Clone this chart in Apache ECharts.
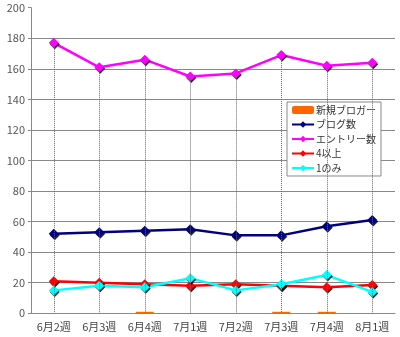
<!DOCTYPE html>
<html><head><meta charset="utf-8">
<script src="https://cdn.jsdelivr.net/npm/echarts@6/dist/echarts.min.js"></script>
<style>html,body{margin:0;padding:0;background:#fff}#c{width:400px;height:337px}</style>
</head><body><div id="c"></div>
<script>
const categories = ['6月2週','6月3週','6月4週','7月1週','7月2週','7月3週','7月4週','8月1週'];
const newBloggers = [0, 0, 1, 0, 0, 1, 1, 0];
const blogCount = [52, 53, 54, 55, 51, 51, 57, 61];
const entryCount = [177, 161, 166, 155, 157, 169, 162, 164];
const fourPlus = [21, 20, 19, 18, 19, 18, 17, 18.5];
const onlyOne = [15, 18, 17, 23, 15, 19, 25, 14];
const yTicks = {min: 0, max: 200, interval: 20};

const font = 'Noto Sans CJK JP';
function lineSeries(name, data, color, extra) {
  return Object.assign({
    name, type: 'line', data,
    symbol: 'diamond', symbolSize: 10,
    lineStyle: {color, width: 2.5},
    itemStyle: {color, shadowColor: 'rgba(0,0,0,0.85)', shadowOffsetX: 1, shadowOffsetY: 1.5, shadowBlur: 0},
    emphasis: {disabled: true}, animation: false
  }, extra || {});
}
const chart = echarts.init(document.getElementById('c'));
chart.setOption({
  animation: false,
  textStyle: {fontFamily: font},
  grid: {left: 31, right: 5, top: 7.7, bottom: 23.7},
  legend: {
    orient: 'vertical', left: 287, top: 102,
    padding: [3, 5, 3, 4], itemGap: 4.5, itemWidth: 22, itemHeight: 8,
    borderColor: '#888', borderWidth: 1, backgroundColor: '#fff',
    textStyle: {fontFamily: font, fontSize: 10, color: '#333', padding: [0,0,0,-3]},
    data: ['新規ブロガー','ブログ数','エントリー数','4以上','1のみ']
  },
  xAxis: {
    type: 'category', data: categories, boundaryGap: true,
    axisLine: {lineStyle: {color: '#888', width: 1}},
    axisTick: {inside: true, length: 4, lineStyle: {color: '#888'}},
    axisLabel: {color: '#444', fontSize: 11, fontFamily: font, margin: 8}
  },
  yAxis: {
    type: 'value', min: yTicks.min, max: yTicks.max, interval: yTicks.interval,
    axisLine: {show: true, lineStyle: {color: '#888'}},
    axisTick: {show: true, length: 3, lineStyle: {color: '#888'}},
    axisLabel: {color: '#555', fontSize: 11, fontFamily: font, margin: 6},
    splitLine: {show: true, showMaxLine: false, lineStyle: {color: '#888', width: 1}}
  },
  series: [
    {name: '新規ブロガー', type: 'bar', data: newBloggers, barWidth: 18,
     itemStyle: {color: '#FF6600'}, animation: false},
    lineSeries('ブログ数', blogCount, '#000080'),
    lineSeries('エントリー数', entryCount, '#FF00FF', {
      markLine: {
        silent: true, symbol: 'none', animation: false,
        lineStyle: {type: 'dotted', color: '#666', width: 1},
        label: {show: false},
        data: entryCount.map((v, i) => [{coord: [i, v]}, {coord: [i, 0]}])
      }
    }),
    lineSeries('4以上', fourPlus, '#FF0000'),
    lineSeries('1のみ', onlyOne, '#00FFFF')
  ]
});
</script></body></html>
